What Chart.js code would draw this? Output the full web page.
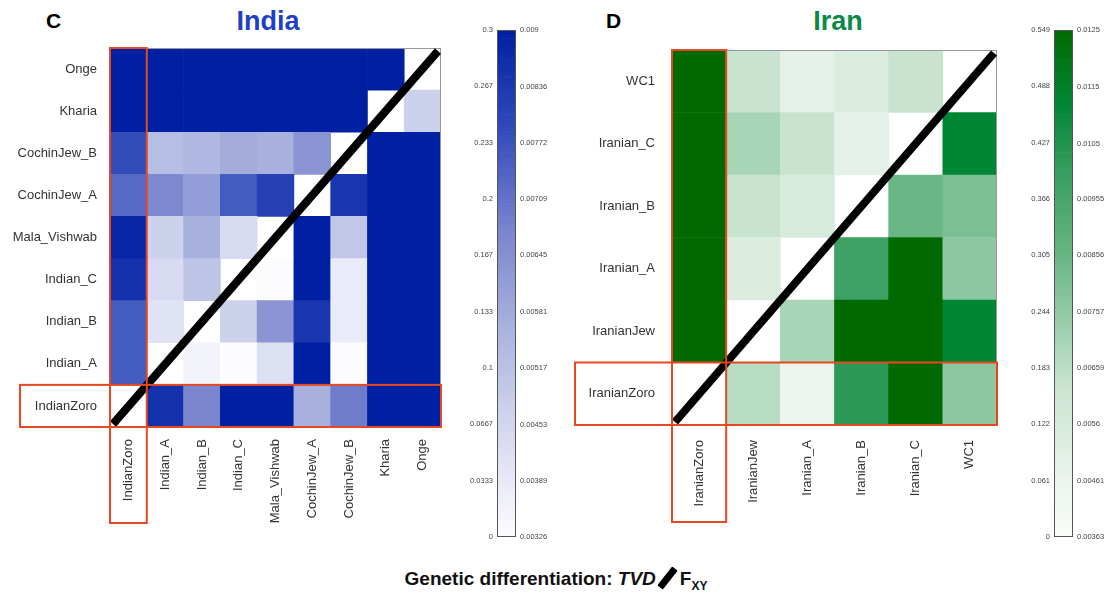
<!DOCTYPE html>
<html>
<head>
<meta charset="utf-8">
<script src="https://cdn.jsdelivr.net/npm/chart.js@4.4.1/dist/chart.umd.min.js"></script>
<style>
  body { margin: 0; background: #fff; font-family: "Liberation Sans", Arial, sans-serif; }
  #wrap { position: relative; width: 1112px; height: 597px; overflow: hidden; }
  canvas { position: absolute; }
  .t { position: absolute; font-weight: bold; white-space: nowrap; }
</style>
</head>
<body>
<div id="wrap">
  <div class="t" style="left:46px;top:9px;font-size:21px;">C</div>
  <div class="t" style="left:168px;width:200px;text-align:center;top:6px;font-size:27px;color:#1d3fc8;">India</div>
  <div class="t" style="left:606px;top:9px;font-size:21px;">D</div>
  <div class="t" style="left:738px;width:200px;text-align:center;top:6px;font-size:27px;color:#0b8a45;">Iran</div>

  <canvas id="indiaHeat" width="460" height="540" style="left:0;top:0"></canvas>
  <canvas id="indiaBar" width="120" height="560" style="left:440px;top:0"></canvas>
  <canvas id="iranHeat" width="460" height="540" style="left:560px;top:0"></canvas>
  <canvas id="iranBar" width="112" height="560" style="left:1000px;top:0"></canvas>

  <div class="t" style="left:0;width:1112px;text-align:center;top:566px;font-size:19px;color:#111;">
    Genetic differentiation: <i>TVD</i><span style="display:inline-block;width:7px;height:24px;background:#000;transform:rotate(38deg);vertical-align:-5px;margin:0 9px 0 8px;border-radius:1px;"></span>F<sub style="font-size:12px;">XY</sub>
  </div>
</div>

<script>
// populations, listed left to right on the x axis and bottom to top on the y axis
const indiaPops = ['IndianZoro', 'Indian_A', 'Indian_B', 'Indian_C', 'Mala_Vishwab', 'CochinJew_A', 'CochinJew_B', 'Kharia', 'Onge'];
// one row per population (bottom row first), values on the TVD colour scale, null = diagonal
const indiaValues = [
  [null, 0.275, 0.18, 0.3, 0.3, 0.125, 0.19, 0.3, 0.3],
  [0.225, null, 0.015, 0, 0.05, 0.3, 0, 0.3, 0.3],
  [0.225, 0.045, null, 0.075, 0.16, 0.27, 0.03, 0.3, 0.3],
  [0.275, 0.06, 0.095, null, 0, 0.3, 0.03, 0.3, 0.3],
  [0.29, 0.075, 0.125, 0.06, null, 0.3, 0.09, 0.3, 0.3],
  [0.21, 0.175, 0.15, 0.225, 0.255, null, 0.27, 0.3, 0.3],
  [0.24, 0.105, 0.115, 0.13, 0.125, 0.16, null, 0.3, 0.3],
  [0.3, 0.3, 0.3, 0.3, 0.3, 0.3, 0.3, null, 0.075],
  [0.3, 0.3, 0.3, 0.3, 0.3, 0.3, 0.3, 0.3, null]
];
const indiaMax = 0.3;
const indiaTvdTicks = [0, 0.0333, 0.0667, 0.1, 0.133, 0.167, 0.2, 0.233, 0.267, 0.3];
const indiaTvdLabels = ['0', '0.0333', '0.0667', '0.1', '0.133', '0.167', '0.2', '0.233', '0.267', '0.3'];
const indiaFxyTicks = [0.00326, 0.00389, 0.00453, 0.00517, 0.00581, 0.00645, 0.00709, 0.00772, 0.00836, 0.009];
const indiaFxyLabels = ['0.00326', '0.00389', '0.00453', '0.00517', '0.00581', '0.00645', '0.00709', '0.00772', '0.00836', '0.009'];

const iranPops = ['IranianZoro', 'IranianJew', 'Iranian_A', 'Iranian_B', 'Iranian_C', 'WC1'];
const iranValues = [
  [null, 0.19, 0.055, 0.41, 0.549, 0.25],
  [0.549, null, 0.21, 0.549, 0.549, 0.47],
  [0.549, 0.11, null, 0.385, 0.549, 0.25],
  [0.549, 0.165, 0.12, null, 0.3, 0.275],
  [0.549, 0.21, 0.165, 0.08, null, 0.47],
  [0.549, 0.165, 0.08, 0.11, 0.165, null]
];
const iranMax = 0.549;
const iranTvdTicks = [0, 0.061, 0.122, 0.183, 0.244, 0.305, 0.366, 0.427, 0.488, 0.549];
const iranTvdLabels = ['0', '0.061', '0.122', '0.183', '0.244', '0.305', '0.366', '0.427', '0.488', '0.549'];
const iranFxyTicks = [0.00363, 0.00461, 0.0056, 0.00659, 0.00757, 0.00856, 0.00955, 0.0105, 0.0115, 0.0125];
const iranFxyLabels = ['0.00363', '0.00461', '0.0056', '0.00659', '0.00757', '0.00856', '0.00955', '0.0105', '0.0115', '0.0125'];

const blues = [[0, [252, 252, 255]], [0.2, [215, 218, 240]], [0.4, [172, 180, 223]], [0.6, [122, 134, 206]], [0.8, [50, 76, 186]], [1, [0, 32, 163]]];
const greens = [[0, [250, 253, 250]], [0.15, [228, 241, 231]], [0.3, [200, 228, 208]], [0.55, [105, 182, 132]], [0.72, [55, 158, 95]], [0.85, [0, 135, 55]], [1, [0, 106, 0]]];

Chart.defaults.font.family = '"Liberation Sans", Arial, sans-serif';
Chart.defaults.animation = false;
Chart.defaults.plugins.legend.display = false;
Chart.defaults.plugins.tooltip.enabled = false;

function colour(stops, t) {
  t = Math.max(0, Math.min(1, t));
  for (let k = 1; k < stops.length; k++) {
    if (t <= stops[k][0]) {
      const [t0, c0] = stops[k - 1], [t1, c1] = stops[k];
      const f = (t - t0) / (t1 - t0);
      const c = c0.map((v, i) => Math.round(v + (c1[i] - v) * f));
      return `rgb(${c[0]},${c[1]},${c[2]})`;
    }
  }
  const c = stops[stops.length - 1][1];
  return `rgb(${c[0]},${c[1]},${c[2]})`;
}

// frame, diagonal and the red boxes round the Zoro row / column
const heatDecor = {
  id: 'heatDecor',
  afterDatasetsDraw(chart, args, opts) {
    const { ctx, chartArea: a, scales: { x, y } } = chart;
    ctx.save();
    ctx.strokeStyle = '#999';
    ctx.lineWidth = 1;
    ctx.strokeRect(a.left + 0.5, a.top + 0.5, a.width - 1, a.height - 1);

    ctx.strokeStyle = '#000';
    ctx.lineWidth = 8;
    ctx.beginPath();
    ctx.moveTo(a.left + 3, a.bottom - 3);
    ctx.lineTo(a.right - 3, a.top + 3);
    ctx.stroke();

    const colEdge = (x.getPixelForValue(0) + x.getPixelForValue(1)) / 2;
    const rowEdge = y.getPixelForValue(0.5);
    ctx.strokeStyle = '#e8481f';
    ctx.lineWidth = 2;
    ctx.strokeRect(a.left, a.top, colEdge - a.left, a.bottom + opts.below - a.top);
    ctx.strokeRect(a.left - opts.beside, rowEdge, a.right - a.left + opts.beside, a.bottom - rowEdge);
    ctx.restore();
  }
};

function heatmap(id, pops, values, vmax, stops, lay) {
  const datasets = values.map((row, i) => ({
    data: row.map(v => v === null ? null : [i - 0.5, i + 0.5]),
    backgroundColor: row.map(v => v === null ? 'rgba(0,0,0,0)' : colour(stops, v / vmax)),
    grouped: false,
    barPercentage: 1,
    categoryPercentage: 1,
    borderWidth: 0
  }));
  new Chart(document.getElementById(id), {
    type: 'bar',
    data: { labels: pops, datasets },
    plugins: [heatDecor],
    options: {
      responsive: false,
      layout: { padding: { top: lay.top, right: lay.right, left: 0, bottom: 0 } },
      plugins: { heatDecor: { below: lay.below, beside: lay.beside } },
      scales: {
        x: {
          grid: { display: false, drawTicks: false },
          border: { display: false },
          ticks: { color: '#333', font: { size: 13 }, maxRotation: 90, minRotation: 90, autoSkip: false, padding: lay.xPad },
          afterFit: s => { s.height = lay.xHeight; }
        },
        y: {
          min: -0.5,
          max: pops.length - 0.5,
          grid: { display: false, drawTicks: false },
          border: { display: false },
          afterBuildTicks: s => { s.ticks = pops.map((p, i) => ({ value: i })); },
          ticks: { color: '#333', font: { size: 13 }, padding: lay.yPad, callback: v => pops[v] },
          afterFit: s => { s.width = lay.yWidth; }
        }
      }
    }
  });
}

const barFrame = {
  id: 'barFrame',
  afterDatasetsDraw(chart) {
    const { ctx, chartArea: a } = chart;
    ctx.save();
    ctx.strokeStyle = '#555';
    ctx.lineWidth = 1;
    ctx.strokeRect(a.left + 0.5, a.top + 0.5, a.width - 1, a.height - 1);
    ctx.restore();
  }
};

function colourBar(id, vmax, lTicks, lLabels, rTicks, rLabels, stops, lay) {
  const steps = 120;
  const datasets = [];
  for (let k = 0; k < steps; k++) {
    const lo = vmax * k / steps, hi = vmax * (k + 1) / steps;
    datasets.push({
      data: [[lo, hi]],
      backgroundColor: colour(stops, (k + 0.5) / steps),
      grouped: false, barPercentage: 1, categoryPercentage: 1, borderWidth: 0, yAxisID: 'y'
    });
  }
  const tickFont = { size: 7.5 };
  new Chart(document.getElementById(id), {
    type: 'bar',
    data: { labels: [''], datasets },
    plugins: [barFrame],
    options: {
      responsive: false,
      layout: { padding: { top: 30, bottom: 23, left: 0, right: 0 } },
      scales: {
        x: { display: false },
        y: {
          position: 'left', min: 0, max: vmax,
          grid: { display: false, drawTicks: false }, border: { display: false },
          afterBuildTicks: s => { s.ticks = lTicks.map(v => ({ value: v })); },
          ticks: { color: '#444', font: tickFont, padding: 4, callback: (v, i) => lLabels[i] },
          afterFit: s => { s.width = lay.left; }
        },
        y2: {
          position: 'right', min: rTicks[0], max: rTicks[rTicks.length - 1],
          grid: { display: false, drawTicks: false }, border: { display: false },
          afterBuildTicks: s => { s.ticks = rTicks.map(v => ({ value: v })); },
          ticks: { color: '#444', font: tickFont, padding: 4, callback: (v, i) => rLabels[i] },
          afterFit: s => { s.width = lay.right; }
        }
      }
    }
  });
}

heatmap('indiaHeat', indiaPops, indiaValues, indiaMax, blues,
  { top: 48, right: 19, yWidth: 110, xHeight: 113, xPad: 12, yPad: 13, below: 96, beside: 90 });
heatmap('iranHeat', iranPops, iranValues, iranMax, greens,
  { top: 50, right: 23, yWidth: 112, xHeight: 115, xPad: 15, yPad: 17, below: 97, beside: 97 });

colourBar('indiaBar', indiaMax, indiaTvdTicks, indiaTvdLabels, indiaFxyTicks, indiaFxyLabels, blues, { left: 57, right: 44 });
colourBar('iranBar', iranMax, iranTvdTicks, iranTvdLabels, iranFxyTicks, iranFxyLabels, greens, { left: 54, right: 39 });
</script>
</body>
</html>
